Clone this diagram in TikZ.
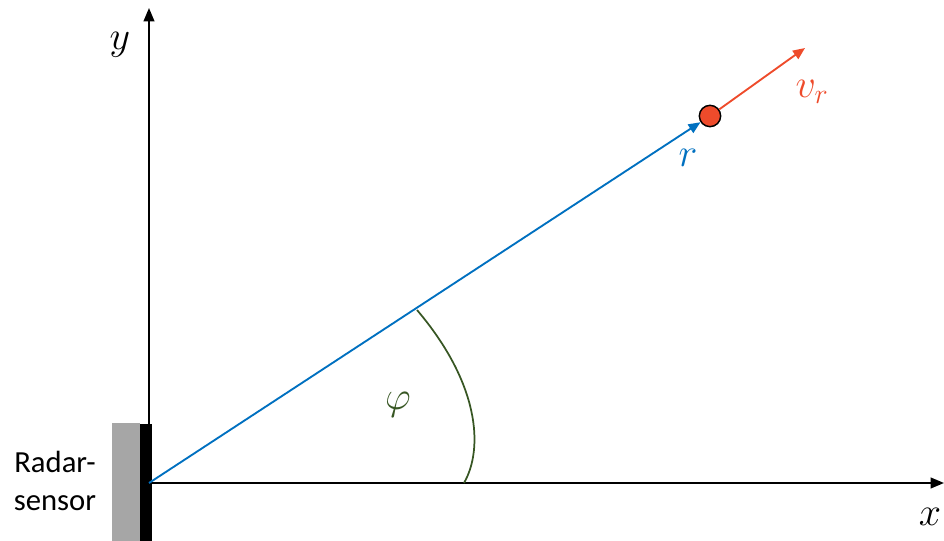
\documentclass[tikz,border=0pt]{standalone}
\usepackage{fix-cm}
\usepackage{fontspec}
\setsansfont{Carlito}
\usetikzlibrary{positioning,arrows.meta}
\definecolor{rblue}{HTML}{0070C0}
\definecolor{rred}{HTML}{EE4B2B}
\definecolor{rgreen}{HTML}{375623}
\definecolor{rgray}{HTML}{A6A6A6}
\tikzset{
  axis/.style={-{Triangle[length=10pt,width=8pt]},line width=1.5pt,draw=black},
  vec/.style={-{Triangle[length=9pt,width=7.5pt]},line width=1.4pt},
  mlab/.style={font=\fontsize{30}{36}\selectfont,inner sep=0pt},
  target/.style={circle,draw=black,line width=1.1pt,fill=rred,minimum size=16pt,inner sep=0pt},
}
\begin{document}
\begin{tikzpicture}[x=0.75pt,y=0.75pt]
\useasboundingbox (-149,-58) rectangle (795,483);
% ---- sensor ----
\fill[rgray] (-37,-58) rectangle (-9,60);
\fill[black] (-9,-58) rectangle (3,59);
\node[font=\sffamily\fontsize{23}{28.5}\selectfont,align=center] (sensor) at (-94,2) {Radar-\\sensor};

% ---- axes ----
\coordinate (o) at (0,0);
\coordinate (xend) at (795,0);
\coordinate (yend) at (0,475);
\draw[axis] (0,-1) -- (yend);
\draw[axis] (o) -- (xend);
\node[mlab] (ylab) at (-29,438) {$y$};
\node[mlab] (xlab) at (781,-34) {$x$};

% ---- target ----
\node[target] (tgt) at (561,367) {};
\coordinate (vend) at (656,435);
\draw[vec,rblue] (o) -- (tgt);
\draw[vec,rred] (tgt) -- (vend);
\node[mlab,text=rblue] (rlab) at (539,325) {$r$};
\node[mlab,text=rred] (vlab) at (663,391) {$v_r$};

% ---- angle ----
\coordinate (a0) at (315,0);
\coordinate (a1) at (268,173);
\draw[rgreen,line width=1.3pt] (a0) .. controls (335,35) and (330,100) .. (a1);
\node[mlab,text=rgreen] (phi) at (249,78) {$\varphi$};
\end{tikzpicture}
\end{document}
